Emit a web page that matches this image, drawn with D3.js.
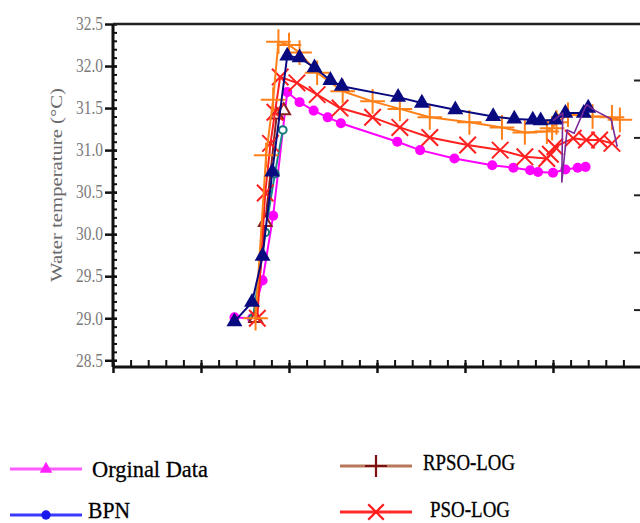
<!DOCTYPE html>
<html>
<head>
<meta charset="utf-8">
<script src="https://cdn.jsdelivr.net/npm/d3@7"></script>
<style>
  html, body { margin: 0; padding: 0; background: #fff; }
  svg { display: block; }
</style>
</head>
<body>
<svg id="chart" width="640" height="523"></svg>
<script>
// ── Data ────────────────────────────────────────────────────────────
const origX = [6.9, 7.9, 8.5, 9.1, 9.9, 10.6, 11.4, 12.2, 12.95, 16.15, 17.45, 19.4, 21.55, 22.75, 23.7, 24.15, 25.0, 25.7, 26.4, 26.85];
const origY = [29.01, 29.0, 29.45, 30.22, 31.69, 31.57, 31.47, 31.39, 31.32, 31.1, 31.0, 30.9, 30.82, 30.79, 30.76, 30.74, 30.73, 30.77, 30.79, 30.8];

const bpnX = [6.9, 7.9, 8.5, 9.05, 9.9, 10.6, 11.45, 12.35, 13.0, 16.2, 17.55, 19.45, 21.6, 22.8, 23.85, 24.3, 25.15, 25.7, 26.75, 27.0];
const bpnY = [28.96, 29.19, 29.74, 30.74, 32.12, 32.1, 31.98, 31.83, 31.76, 31.63, 31.56, 31.48, 31.4, 31.37, 31.36, 31.35, 31.36, 31.44, 31.44, 31.5];

const orangeX = [8.1, 8.7, 9.1, 9.4, 10.0, 10.6, 11.6, 13.05, 14.75, 16.3, 18.0, 20.25, 22.1, 23.4, 24.65, 24.95, 25.2, 25.85, 27.25, 28.35, 28.8];
const orangeY = [29.0, 30.94, 31.6, 32.29, 32.25, 32.16, 31.92, 31.7, 31.58, 31.49, 31.39, 31.33, 31.27, 31.21, 31.22, 31.26, 31.33, 31.42, 31.4, 31.39, 31.36];

const psoX = [8.2, 8.65, 8.95, 9.2, 9.5, 10.45, 11.6, 12.9, 14.75, 16.3, 18.0, 20.15, 22.0, 23.4, 24.65, 24.85, 25.1, 26.15, 26.9, 27.65, 28.35];
const psoY = [29.0, 30.49, 31.08, 31.45, 31.87, 31.8, 31.66, 31.5, 31.39, 31.27, 31.15, 31.06, 31.0, 30.92, 30.9, 30.95, 31.04, 31.14, 31.12, 31.12, 31.08];

const triX = [8.1, 8.65, 9.3, 9.7];
const triY = [29.0, 30.14, 31.42, 31.47];

const tealX = [7.95, 8.65, 9.2, 9.65];
const tealY = [29.0, 30.02, 30.72, 31.24];

const purpleX = [25.0, 25.55, 25.5, 25.8, 26.2, 26.9, 27.4, 28.3, 28.65];
const purpleY = [31.35, 31.44, 30.62, 31.24, 31.2, 31.54, 31.47, 31.37, 31.04];

const yTicks = [28.5, 29.0, 29.5, 30.0, 30.5, 31.0, 31.5, 32.0, 32.5];
const rightTicks = [1, 2, 3, 4, 5];

const legendNames = ["Orginal Data", "BPN", "RPSO-LOG", "PSO-LOG"];

// ── Layout ──────────────────────────────────────────────────────────
const X0 = 113, X1 = 641, Y_TOP = 24, Y_BOT = 367;
const svg = d3.select("#chart");

const x = d3.scaleLinear().domain([0, 30]).range([X0, X1]);
const y = d3.scaleLinear().domain([28.42, 32.5]).range([Y_BOT, Y_TOP]);
const yRight = d3.scaleLinear().domain([0, 5]).range([Y_BOT, 80]);

const SERIF = "'Liberation Serif', 'DejaVu Serif', serif";

// ── Axes ────────────────────────────────────────────────────────────
// minor y ticks
svg.append("g")
    .attr("transform", `translate(${X0 + 4},0)`)
    .call(d3.axisLeft(y).tickValues(d3.range(28.5, 32.5, 0.1)).tickSize(5).tickFormat(""))
    .call(g => g.select(".domain").remove())
    .call(g => g.selectAll("line").attr("stroke", "#111").attr("stroke-width", 2));

// major y ticks + labels
const yAx = svg.append("g")
    .attr("transform", `translate(${X0 + 4},0)`)
    .call(d3.axisLeft(y).tickValues(yTicks).tickSize(12).tickPadding(2).tickFormat(d3.format(".1f")));
yAx.select(".domain").remove();
yAx.selectAll("line").attr("stroke", "#111").attr("stroke-width", 2.5);
yAx.selectAll("text")
    .attr("font-family", SERIF).attr("font-size", 18).attr("fill", "#7a7a7a")
    .attr("textLength", 27).attr("lengthAdjust", "spacingAndGlyphs");

// x ticks: minor inside, major below
svg.append("g")
    .attr("transform", `translate(0,${Y_BOT})`)
    .call(d3.axisTop(x).tickValues(d3.range(0, 31, 1)).tickSize(7).tickFormat(""))
    .call(g => g.select(".domain").remove())
    .call(g => g.selectAll("line").attr("stroke", "#111").attr("stroke-width", 2));

svg.append("g")
    .attr("transform", `translate(0,${Y_BOT - 4})`)
    .call(d3.axisBottom(x).tickValues(d3.range(0, 31, 5)).tickSize(10).tickFormat(""))
    .call(g => g.select(".domain").remove())
    .call(g => g.selectAll("line").attr("stroke", "#111").attr("stroke-width", 2.5));

// right-side ticks (cropped axis)
svg.append("g")
    .attr("transform", `translate(${640},0)`)
    .call(d3.axisRight(yRight).tickValues(rightTicks).tickSize(-6).tickFormat(""))
    .call(g => g.select(".domain").remove())
    .call(g => g.selectAll("line").attr("stroke", "#222").attr("stroke-width", 2));

// frame lines
svg.append("line")
    .attr("x1", X0).attr("y1", Y_TOP).attr("x2", 640).attr("y2", Y_TOP)
    .attr("stroke", "#222").attr("stroke-width", 2.5);
svg.append("line")
    .attr("x1", X0).attr("y1", Y_TOP).attr("x2", X0).attr("y2", Y_BOT)
    .attr("stroke", "#111").attr("stroke-width", 3);
svg.append("line")
    .attr("x1", X0).attr("y1", Y_BOT).attr("x2", 640).attr("y2", Y_BOT)
    .attr("stroke", "#111").attr("stroke-width", 3);

// y axis title
svg.append("text")
    .attr("transform", `translate(62,${(88 + 282) / 2}) rotate(-90)`)
    .attr("text-anchor", "middle")
    .attr("font-family", SERIF).attr("font-size", 16).attr("fill", "#6a6a6a")
    .attr("textLength", 194).attr("lengthAdjust", "spacingAndGlyphs")
    .text("Water temperature (°C)");

// ── Series ──────────────────────────────────────────────────────────
const sym = {
    circle: d3.symbolCircle,
    triangle: d3.symbolTriangle,
    plus: d3.symbolPlus || d3.symbolCross,
    times: d3.symbolTimes || d3.symbolX || d3.symbolCross
};

const series = [
    { xs: origX,   ys: origY,   color: "#ff00ff", shape: "circle",   size: 80,  fill: "#ff00ff", stroke: "none", sw: 2 },
    { xs: tealX,   ys: tealY,   color: "#1a8a8a", shape: "circle",   size: 45,  fill: "#fff",    stroke: "#137a7a", sw: 2 },
    { xs: triX,    ys: triY,    color: "#8b2020", shape: "triangle", size: 70,  fill: "#fff",    stroke: "#8b2020", sw: 2 },
    { xs: psoX,    ys: psoY,    color: "#ff2020", shape: "times",    size: 180, fill: "none",    stroke: "#ff2020", sw: 2 },
    { xs: orangeX, ys: orangeY, color: "#ff8019", shape: "plus",     size: 200, fill: "none",    stroke: "#ff8019", sw: 2 },
    { xs: bpnX,    ys: bpnY,    color: "#0a0a80", shape: "triangle", size: 110, fill: "#0a0a80", stroke: "none", sw: 2 },
    { xs: purpleX, ys: purpleY, color: "#7a2a9a", shape: null,       size: 0,   fill: "none",    stroke: "none", sw: 1.6 }
];

const line = d3.line().x(d => x(d[0])).y(d => y(d[1]));

series.forEach(s => {
    const pts = s.xs.map((v, i) => [v, s.ys[i]]);
    svg.append("path")
        .datum(pts)
        .attr("d", line)
        .attr("fill", "none")
        .attr("stroke", s.color)
        .attr("stroke-width", s.sw)
        .attr("stroke-linejoin", "round");
    if (!s.shape) return;
    svg.append("g").selectAll("path")
        .data(pts)
        .join("path")
        .attr("transform", d => `translate(${x(d[0])},${y(d[1])})`)
        .attr("d", d3.symbol().type(sym[s.shape]).size(s.size))
        .attr("fill", s.fill)
        .attr("stroke", s.stroke)
        .attr("stroke-width", s.stroke === "none" ? 0 : 2);
});

// ── Legend ──────────────────────────────────────────────────────────
const legendItems = [
    { name: legendNames[0], lx: 10,  ly: 469, ty: 477, tx: 92,  tl: 116, line: "#ff5cff", shape: "triangle", mark: "#ff22ff", fill: true },
    { name: legendNames[1], lx: 10,  ly: 515, ty: 518, tx: 88,  tl: 42,  line: "#3a3aff", shape: "circle",   mark: "#1a1aee", fill: true },
    { name: legendNames[2], lx: 340, ly: 466, ty: 470, tx: 423, tl: 92,  line: "#b8765a", shape: "plus",     mark: "#7a1010", fill: false },
    { name: legendNames[3], lx: 340, ly: 512, ty: 517, tx: 430, tl: 80,  line: "#ff2a2a", shape: "times",    mark: "#ff1a1a", fill: false }
];

legendItems.forEach(it => {
    svg.append("line")
        .attr("x1", it.lx).attr("y1", it.ly).attr("x2", it.lx + 72).attr("y2", it.ly)
        .attr("stroke", it.line).attr("stroke-width", 3);
    svg.append("path")
        .attr("transform", `translate(${it.lx + 36},${it.ly})`)
        .attr("d", d3.symbol().type(sym[it.shape]).size(it.fill ? 70 : 160))
        .attr("fill", it.fill ? it.mark : "none")
        .attr("stroke", it.fill ? "none" : it.mark)
        .attr("stroke-width", 2.2);
    svg.append("text")
        .attr("x", it.tx).attr("y", it.ty)
        .attr("font-family", SERIF).attr("font-size", 24).attr("fill", "#000")
        .attr("stroke", "#000").attr("stroke-width", 0.3)
        .attr("textLength", it.tl).attr("lengthAdjust", "spacingAndGlyphs")
        .text(it.name);
});
</script>
</body>
</html>
